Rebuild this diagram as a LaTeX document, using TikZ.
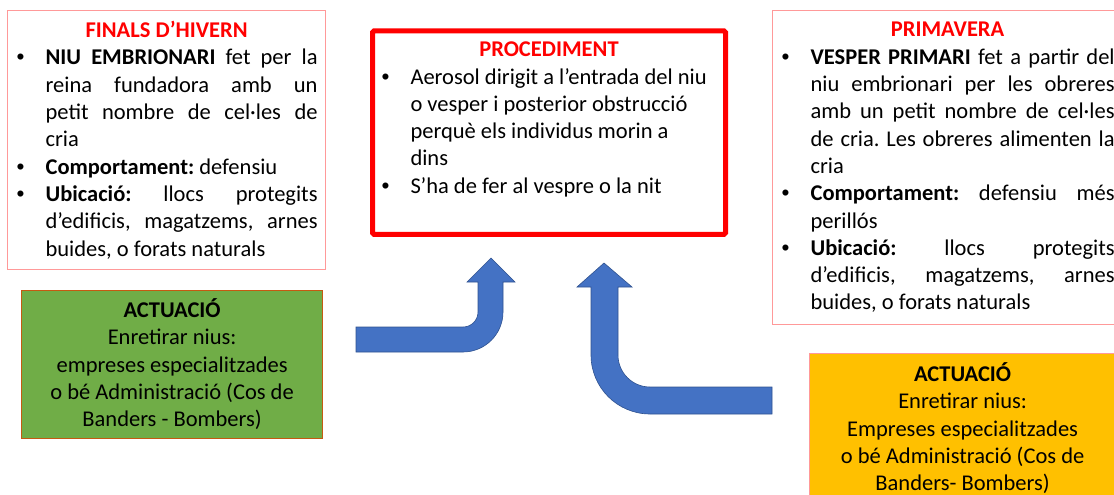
\documentclass[tikz,border=0pt]{standalone}
\usepackage{fontspec}
\setmainfont{Carlito}
\newfontfamily\bulfont{Liberation Sans}
\usetikzlibrary{calc}

\definecolor{boxred}{HTML}{FF9999}
\definecolor{titlered}{HTML}{FF0000}
\definecolor{actgreen}{HTML}{70AD47}
\definecolor{greenedge}{HTML}{C55A11}
\definecolor{actorange}{HTML}{FFC000}
\definecolor{arrowblue}{HTML}{4472C4}
\definecolor{arrowedge}{HTML}{2F528F}

\newcommand{\bul}{\par\hangindent=30pt\hangafter=1\noindent\makebox[30pt][l]{\hspace{1pt}{\bulfont\textbullet}}}
\newcommand{\boxtitle}[1]{{\centering\color{titlered}\bfseries #1\par}}

\begin{document}
\begin{tikzpicture}[x=1pt, y=-1pt,
  txt/.style={font=\fontsize{22.5}{27.3}\selectfont\frenchspacing},
  infobox/.style={txt, draw=boxred, line width=1.2pt, text width=#1, inner xsep=8pt, align=justify},
  procbox/.style={txt, draw=titlered, line width=5pt, rounded corners=1.5pt, text width=337pt, inner xsep=8pt, inner ysep=11pt, align=flush left},
  actbox/.style={txt, draw=#1, line width=1.2pt, align=flush center},
  blockarrow/.style={fill=arrowblue, draw=arrowedge, line width=0.6pt}]

\useasboundingbox (0,0) rectangle (1114,495);
\clip (0,0) rectangle (1114,495);

\node[infobox=302pt, anchor=north west, minimum height=259pt] (hiv) at (7,10) {\boxtitle{FINALS D’HIVERN}%
\bul\textbf{NIU EMBRIONARI} fet per la\linebreak reina fundadora amb un\linebreak petit nombre de cel·les de\linebreak cria
\bul\textbf{Comportament:} defensiu
\bul\textbf{Ubicació:} llocs protegits\linebreak d’edificis, magatzems, arnes\linebreak buides, o forats naturals\par};

\node[infobox=334pt, anchor=north west, minimum height=314pt] (prim) at (772,10) {\boxtitle{PRIMAVERA}%
\bul\textbf{VESPER PRIMARI} fet a partir del\linebreak niu embrionari per les obreres\linebreak amb un petit nombre de cel·les\linebreak de cria. Les obreres alimenten la\linebreak cria
\bul\textbf{Comportament:} defensiu més\linebreak perillós
\bul\textbf{Ubicació:} llocs protegits\linebreak d’edificis, magatzems, arnes\linebreak buides, o forats naturals\par};

\node[procbox, anchor=north] (proc) at (549,28.5) {\boxtitle{PROCEDIMENT}%
\bul Aerosol dirigit a l’entrada del niu\newline o vesper i posterior obstrucció\newline perquè els individus morin a\newline dins
\bul S’ha de fer al vespre o la nit\rule[-30pt]{0pt}{1pt}\par};

\node[actbox=greenedge, fill=actgreen, minimum width=301pt, minimum height=148pt] (act1) at ($(hiv.south)+(5.5,94)$) {\textbf{ACTUACIÓ}\\ Enretirar nius:\\ empreses especialitzades\\ o bé Administració (Cos de\\ Banders - Bombers)};

\node[actbox=boxred, fill=actorange, minimum width=306pt, inner ysep=9pt, anchor=north west] (act2) at (809,353) {\textbf{ACTUACIÓ}\\ Enretirar nius:\\ Empreses especialitzades\\ o bé Administració (Cos de\\ Banders- Bombers)};

% fletxa esquerra
\path[blockarrow] (356,327) -- (463,327) arc[start angle=90, end angle=0, radius=15] -- (478,282) -- (467,282) -- (491,258) -- (515,282) -- (503,282) -- (503,312) arc[start angle=0, end angle=90, radius=40] -- (356,352) -- cycle;

% fletxa dreta
\path[blockarrow] (772,387) -- (650,387) arc[start angle=90, end angle=180, radius=32] -- (618,287) -- (632,287) -- (604,263) -- (577,287) -- (591,287) -- (591,355) arc[start angle=180, end angle=90, radius=59] -- (772,414) -- cycle;

\end{tikzpicture}
\end{document}
